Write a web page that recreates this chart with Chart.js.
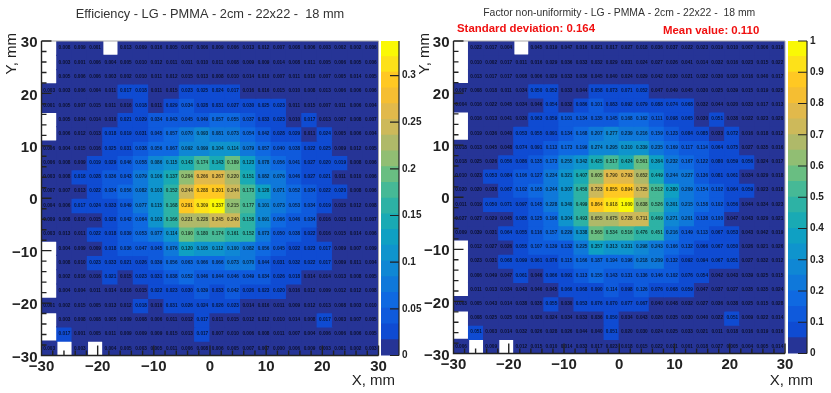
<!DOCTYPE html>
<html>
<head>
<meta charset="utf-8">
<title>Efficiency and factor non-uniformity</title>
<script src="https://cdn.jsdelivr.net/npm/chart.js@4/dist/chart.umd.min.js"></script>
<style>
    html, body { margin: 0; padding: 0; background: #fff; overflow: hidden; }
    canvas { position: absolute; top: 0; filter: blur(0.35px); }
</style>
</head>
<body>
<canvas id="effChart" width="400" height="393" style="left:0"></canvas>
<canvas id="effBar" width="50" height="393" style="left:375px"></canvas>
<canvas id="factorChart" width="400" height="393" style="left:415px"></canvas>
<canvas id="factorBar" width="48" height="393" style="left:783px"></canvas>
<script>
const efficiency = [
    [null,.008,.009,.001,null,.013,.009,.016,.005,.007,.006,.009,.006,.013,.012,.007,.008,.006,.003,.002,.002,.006],
    [null,.003,.001,.006,.004,.005,.010,.012,.011,.011,.010,.011,.008,.009,.009,.014,.008,.011,.005,.006,.005,.006],
    [null,.005,.006,.006,.003,.002,.010,.011,.012,.015,.013,.008,.010,.014,.010,.007,.011,.010,.007,.005,.014,.005],
    [.003,.003,.006,.004,.011,.017,.018,.011,.015,.023,.025,.024,.017,.016,.016,.015,.010,.008,.013,.006,.006,.006],
    [.001,.005,.007,.015,.011,.016,.018,.011,.029,.034,.028,.031,.027,.030,.025,.023,.011,.015,.007,.011,.006,.004],
    [null,.005,.004,.014,.010,.021,.029,.034,.043,.045,.049,.057,.055,.037,.033,.023,.010,.017,.013,.007,.008,.007],
    [null,.006,.012,.013,.018,.019,.031,.045,.057,.070,.093,.081,.073,.054,.042,.028,.029,.011,.024,.005,.006,.004],
    [.006,.004,.015,.016,.025,.031,.038,.056,.067,.092,.099,.104,.114,.079,.057,.040,.038,.022,.025,.009,.012,.005],
    [.006,.008,.009,.019,.029,.046,.058,.086,.115,.143,.174,.143,.189,.123,.078,.056,.041,.027,.020,.019,.008,.006],
    [.003,.008,.018,.028,.036,.043,.079,.106,.137,.204,.266,.267,.220,.151,.082,.076,.046,.027,.021,.011,.010,.006],
    [.007,.007,.013,.022,.034,.056,.082,.103,.152,.244,.288,.301,.244,.173,.128,.071,.052,.034,.022,.020,.008,.006],
    [.004,.006,.017,.024,.033,.049,.077,.115,.168,.291,.309,.337,.215,.177,.101,.073,.053,.034,.019,.015,.012,.008],
    [.009,.008,.010,.015,.020,.042,.064,.103,.166,.221,.228,.245,.240,.158,.091,.066,.046,.034,.016,.015,.010,.007],
    [.003,.013,.011,.022,.018,.039,.053,.077,.114,.190,.180,.174,.161,.152,.073,.050,.038,.022,.016,.015,.014,.006],
    [null,.004,.009,.009,.018,.036,.047,.045,.076,.120,.105,.112,.100,.082,.056,.045,.022,.023,.017,.009,.007,.009],
    [null,.008,.010,.023,.033,.021,.026,.039,.056,.063,.066,.066,.073,.070,.044,.031,.032,.022,.017,.009,.011,.004],
    [null,.002,.016,.016,.021,.015,.023,.031,.038,.052,.046,.044,.046,.049,.034,.026,.018,.014,.014,.013,.008,.005],
    [null,.004,.004,.011,.014,.016,.015,.022,.023,.030,.039,.033,.042,.026,.023,.020,.016,.012,.009,.012,.012,.008],
    [.001,.002,.015,.005,.013,.012,.018,.010,.031,.026,.024,.026,.023,.014,.016,.011,.009,.012,.013,.008,.003,.010],
    [null,.003,.008,.008,.005,.009,.008,.006,.011,.012,.017,.011,.015,.012,.012,.010,.014,.008,.017,.003,.007,.005],
    [null,.017,.001,.005,.011,.009,.009,.009,.015,.013,.017,.007,.010,.006,.008,.011,.007,.004,.006,.006,.006,.005],
    [.003,null,.003,null,.004,.005,.003,.005,.011,.006,.008,.006,.005,.007,.007,.000,.006,.009,.003,.001,.002,.003]
];

const nonUniformity = [
    [null,.022,.017,.004,null,.045,.019,.047,.016,.021,.017,.027,.018,.036,.037,.022,.023,.019,.010,.007,.006,.019],
    [null,.010,.002,.017,.011,.016,.029,.036,.033,.032,.029,.031,.024,.027,.026,.041,.014,.032,.016,.023,.015,.022],
    [null,.013,.017,.017,.008,.006,.029,.033,.036,.045,.040,.024,.029,.042,.030,.021,.032,.030,.020,.016,.040,.017],
    [.007,.008,.018,.011,.034,.050,.052,.033,.044,.058,.073,.071,.052,.047,.049,.045,.030,.025,.039,.015,.019,.025],
    [.004,.016,.022,.045,.034,.046,.054,.032,.086,.101,.083,.092,.079,.088,.074,.068,.032,.044,.020,.033,.017,.013],
    [null,.016,.013,.041,.030,.063,.059,.101,.134,.135,.145,.168,.162,.111,.098,.065,.030,.051,.038,.022,.023,.020],
    [null,.019,.036,.040,.053,.055,.091,.134,.168,.207,.277,.239,.216,.159,.123,.084,.085,.033,.072,.016,.018,.012],
    [.018,.013,.045,.048,.074,.091,.113,.173,.199,.274,.295,.310,.339,.235,.169,.117,.114,.064,.075,.027,.035,.016],
    [.018,.025,.026,.056,.086,.135,.173,.255,.342,.425,.517,.424,.561,.364,.232,.167,.122,.080,.059,.056,.024,.017],
    [.010,.023,.053,.084,.106,.127,.234,.321,.407,.605,.790,.793,.652,.449,.244,.227,.136,.081,.061,.034,.029,.018],
    [.020,.020,.038,.067,.102,.165,.244,.307,.450,.723,.855,.894,.725,.512,.380,.209,.154,.102,.064,.059,.023,.018],
    [.011,.019,.050,.071,.097,.145,.228,.340,.499,.864,.918,1.000,.638,.526,.301,.215,.158,.102,.056,.044,.034,.023],
    [.027,.027,.029,.045,.085,.125,.190,.304,.493,.655,.675,.728,.711,.469,.271,.201,.138,.100,.047,.043,.029,.021],
    [.009,.039,.031,.064,.055,.116,.157,.229,.338,.565,.534,.516,.476,.451,.216,.149,.113,.067,.053,.043,.042,.019],
    [null,.012,.027,.026,.055,.107,.139,.132,.225,.357,.313,.331,.298,.243,.166,.132,.066,.067,.050,.026,.021,.026],
    [null,.023,.031,.068,.099,.061,.076,.115,.166,.187,.194,.196,.218,.209,.132,.092,.094,.067,.051,.027,.032,.012],
    [null,.006,.049,.047,.061,.046,.066,.091,.113,.155,.143,.131,.136,.146,.102,.076,.054,.042,.043,.039,.025,.015],
    [null,.011,.013,.034,.043,.046,.045,.066,.068,.090,.114,.098,.126,.076,.068,.059,.047,.037,.027,.035,.035,.024],
    [.003,.005,.043,.014,.038,.035,.055,.030,.053,.076,.070,.077,.067,.040,.048,.032,.027,.036,.038,.025,.015,.028],
    [null,.008,.025,.025,.016,.026,.024,.034,.033,.036,.050,.034,.043,.026,.035,.030,.040,.022,.051,.009,.022,.014],
    [null,.051,.003,.014,.032,.026,.028,.026,.044,.040,.051,.020,.030,.024,.025,.033,.021,.011,.018,.016,.019,.016],
    [.006,null,.009,null,.012,.015,.010,.014,.033,.017,.023,.018,.015,.022,.021,.001,.018,.027,.005,.004,.005,.014]
];

const effTitle = 'Efficiency - LG - PMMA - 2cm - 22x22 -  18 mm';
const factorTitle = 'Factor non-uniformity - LG - PMMA - 2cm - 22x22 -  18 mm';
const stdLabel = 'Standard deviation: 0.164';
const meanLabel = 'Mean value: 0.110';

// colour bands, bottom to top, as seen on the colour scale
const bandColors = [
    'rgb(38,52,150)', 'rgb(15,75,210)', 'rgb(15,90,220)', 'rgb(15,105,225)', 'rgb(15,120,218)',
    'rgb(15,135,212)', 'rgb(15,148,205)', 'rgb(15,160,195)', 'rgb(25,170,180)', 'rgb(45,178,165)',
    'rgb(70,185,150)', 'rgb(105,190,130)', 'rgb(145,190,115)', 'rgb(175,185,105)', 'rgb(205,185,90)',
    'rgb(225,185,75)', 'rgb(245,190,50)', 'rgb(255,200,35)', 'rgb(253,225,25)', 'rgb(250,248,5)'
];
const numLevels = bandColors.length;
const fontName = '"Liberation Sans", Arial, sans-serif';
const axisColor = '#222';

function cellColor(value, max) {
    return bandColors[Math.min(numLevels - 1, Math.floor(value / max * numLevels))];
}

function buildDatasets(rows, max) {
    const binSize = 60 / rows.length;
    return rows.map((row, r) => {
        const top = 30 - r * binSize;
        const points = [];
        row.forEach((v, c) => {
            if (v === null) return;
            points.push({ x: -30 + (c + 0.5) * binSize, y: [top - binSize, top], v: v });
        });
        return {
            data: points,
            backgroundColor: ctx => cellColor(ctx.raw.v, max),
            borderWidth: 0,
            inflateAmount: 0.6,
            grouped: false,
            barPercentage: 1,
            // bar width is measured against the tick spacing (2 mm), not the bin
            categoryPercentage: binSize / 2
        };
    });
}

// numbers printed inside the cells
const cellText = {
    id: 'cellText',
    afterDatasetsDraw(chart) {
        const ctx = chart.ctx;
        ctx.save();
        ctx.font = 'bold 4.7px ' + fontName;
        ctx.fillStyle = 'rgba(0, 0, 0, 0.7)';
        ctx.textAlign = 'center';
        ctx.textBaseline = 'middle';
        chart.data.datasets.forEach((ds, d) => {
            chart.getDatasetMeta(d).data.forEach((bar, i) => {
                const p = bar.getCenterPoint();
                ctx.fillText(ds.data[i].v.toFixed(3), p.x, p.y);
            });
        });
        ctx.restore();
    }
};

// ROOT style frame, ticks point into the plot
const rootFrame = {
    id: 'rootFrame',
    afterDatasetsDraw(chart, args, opts) {
        const ctx = chart.ctx;
        const { left, right, top, bottom } = chart.chartArea;
        const x = chart.scales.x;
        const y = chart.scales.y;
        ctx.save();
        ctx.strokeStyle = '#aaa';
        ctx.lineWidth = 1;
        ctx.beginPath();
        ctx.moveTo(left, top);
        ctx.lineTo(right, top);
        ctx.lineTo(right, bottom);
        ctx.stroke();
        ctx.strokeStyle = axisColor;
        ctx.lineWidth = 1.4;
        ctx.beginPath();
        ctx.moveTo(left, top);
        ctx.lineTo(left, bottom);
        ctx.lineTo(right, bottom);
        x.ticks.forEach(t => {
            const px = x.getPixelForValue(t.value);
            ctx.moveTo(px, bottom);
            ctx.lineTo(px, bottom - (t.value % 10 === 0 ? 10 : 5));
        });
        y.ticks.forEach(t => {
            const py = y.getPixelForValue(t.value);
            ctx.moveTo(left, py);
            ctx.lineTo(left + (t.value % 10 === 0 ? 10 : 5), py);
        });
        ctx.stroke();

        ctx.fillStyle = axisColor;
        ctx.font = '15px ' + fontName;
        ctx.textBaseline = 'middle';
        ctx.textAlign = 'right';
        ctx.fillText('X, mm', opts.xTitle[0], opts.xTitle[1]);
        ctx.save();
        ctx.translate(opts.yTitle[0], opts.yTitle[1]);
        ctx.rotate(-Math.PI / 2);
        ctx.fillText('Y, mm', 0, 0);
        ctx.restore();

        (opts.notes || []).forEach(n => {
            ctx.font = 'bold 11.4px ' + fontName;
            ctx.fillStyle = '#f01010';
            ctx.textAlign = 'left';
            ctx.fillText(n.text, n.x, n.y);
        });
        ctx.restore();
    }
};

function makeHeatmap(id, rows, max, title, titleFont, sizes, frame) {
    const tickFont = { family: fontName, size: 15, weight: 'bold' };
    const tickLabel = v => (v % 10 === 0 ? String(v).replace('-', '\u2212') : '');
    return new Chart(document.getElementById(id).getContext('2d'), {
        type: 'bar',
        data: { datasets: buildDatasets(rows, max) },
        plugins: [cellText, rootFrame],
        options: {
            responsive: false,
            animation: false,
            layout: { autoPadding: false, padding: { right: sizes.right } },
            scales: {
                x: {
                    type: 'linear', min: -30, max: 30, offset: false,
                    grid: { display: false, drawTicks: false }, border: { display: false },
                    ticks: { stepSize: 2, autoSkip: false, maxRotation: 0, padding: 2, color: axisColor, font: tickFont, callback: tickLabel },
                    afterFit: s => { s.height = sizes.bottom; }
                },
                y: {
                    type: 'linear', min: -30, max: 30,
                    grid: { display: false, drawTicks: false }, border: { display: false },
                    ticks: { stepSize: 2, autoSkip: false, padding: 4, labelOffset: 2, color: axisColor, font: tickFont, callback: tickLabel },
                    afterFit: s => { s.width = sizes.left; }
                }
            },
            plugins: {
                legend: { display: false },
                tooltip: { enabled: false },
                title: {
                    display: true, text: title, fullSize: false, color: '#333',
                    font: { family: fontName, size: titleFont, weight: 'normal' },
                    padding: { top: 7, bottom: 41 - 7 - titleFont * 1.2 }
                },
                rootFrame: frame
            }
        }
    });
}

// colour scale next to a heat map
const barTicks = {
    id: 'barTicks',
    afterDatasetsDraw(chart) {
        const ctx = chart.ctx;
        const { left, right, top, bottom } = chart.chartArea;
        const y = chart.scales.y;
        ctx.save();
        ctx.strokeStyle = axisColor;
        ctx.lineWidth = 1.2;
        ctx.beginPath();
        ctx.moveTo(right, top);
        ctx.lineTo(right, bottom);
        y.ticks.forEach(t => {
            const py = y.getPixelForValue(t.value);
            ctx.moveTo(right, py);
            ctx.lineTo(right - 9, py);
        });
        ctx.stroke();
        ctx.restore();
    }
};

function makeColorBar(id, max, step, sizes) {
    const datasets = bandColors.map((color, i) => ({
        data: [[i / numLevels * max, (i + 1) / numLevels * max]],
        backgroundColor: color,
        borderWidth: 0,
        inflateAmount: 0.6,
        grouped: false,
        barPercentage: 1,
        categoryPercentage: 1
    }));
    return new Chart(document.getElementById(id).getContext('2d'), {
        type: 'bar',
        data: { labels: [''], datasets: datasets },
        plugins: [barTicks],
        options: {
            responsive: false,
            animation: false,
            layout: { autoPadding: false, padding: { top: 41, left: sizes.left, bottom: sizes.bottom } },
            scales: {
                x: { display: false },
                y: {
                    position: 'right', min: 0, max: max,
                    grid: { display: false, drawTicks: false }, border: { display: false },
                    ticks: {
                        stepSize: step, includeBounds: false, padding: 3, color: axisColor,
                        font: { family: fontName, size: 10, weight: 'bold' },
                        callback: v => String(Number(v.toFixed(2)))
                    },
                    afterFit: s => { s.width = sizes.width; }
                }
            },
            plugins: { legend: { display: false }, tooltip: { enabled: false } }
        }
    });
}

makeHeatmap('effChart', efficiency, 0.337, effTitle, 12.8,
    { left: 41.5, right: 21.5, bottom: 37.5 },
    { xTitle: [395, 381], yTitle: [12, 33] });
makeColorBar('effBar', 0.337, 0.05, { left: 6, width: 26, bottom: 37.5 });

makeHeatmap('factorChart', nonUniformity, 1, factorTitle, 10.4,
    { left: 38.5, right: 30, bottom: 39.5 },
    {
        xTitle: [398, 381], yTitle: [10, 33],
        notes: [{ text: stdLabel, x: 42, y: 29 }, { text: meanLabel, x: 248, y: 31 }]
    });
makeColorBar('factorBar', 1, 0.1, { left: 5, width: 24, bottom: 39.5 });
</script>
</body>
</html>
